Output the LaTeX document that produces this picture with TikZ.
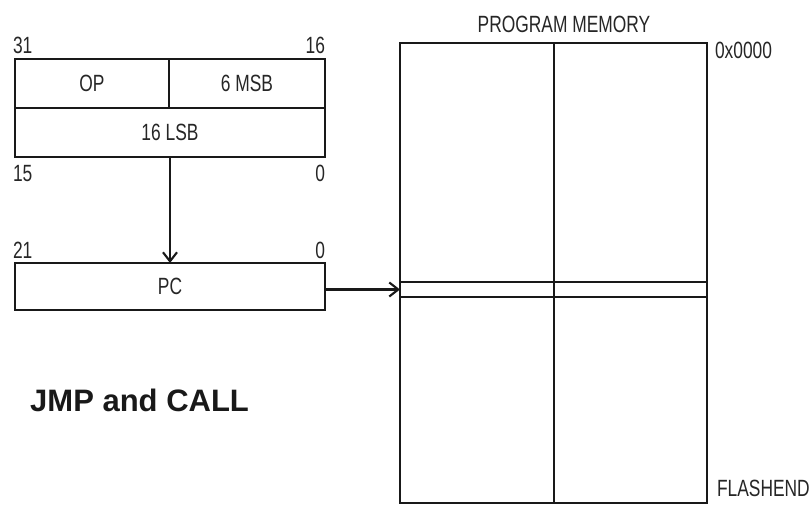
\documentclass[tikz,border=0pt]{standalone}
\usepackage{fontspec}
\setmainfont{Liberation Sans}
\usetikzlibrary{arrows.meta}
\newcommand\narrowtxt[1]{\scalebox{0.74}[1]{#1}}
\newcommand\boxtxt[1]{\raisebox{-2.5pt}{\narrowtxt{#1}}}
\tikzset{
  cell/.style={draw=black!90, line width=2.1pt, inner sep=0pt, outer sep=0pt,
    rectangle, font=\fontsize{23.5}{27}\selectfont, text=black!85},
  lbl/.style={inner sep=0pt, outer sep=0pt, font=\fontsize{23.5}{27}\selectfont, text=black!85},
  conn/.style={draw=black!90, line width=2.1pt, -{Straight Barb[length=9pt,width=14pt,line width=2.1pt]}},
}
\begin{document}
\begin{tikzpicture}[x=1pt,y=-1pt]
\useasboundingbox (0,0) rectangle (811,506);
% instruction word
\node[cell, minimum width=154pt, minimum height=49pt] (op) at (92,83.5) {\boxtxt{OP}};
\node[cell, minimum width=156pt, minimum height=49pt] (msb) at (247,83.5) {\boxtxt{6 MSB}};
\node[cell, minimum width=310pt, minimum height=49pt] (lsb) at (170,132.5) {\boxtxt{16 LSB}};
% PC
\node[cell, minimum width=310pt, minimum height=47pt] (pc) at (170,286.5) {\boxtxt{PC}};
% bit labels
\node[lbl, anchor=base west] (b31) at (13,53) {\narrowtxt{31}};
\node[lbl, anchor=base east] (b16) at (325,53) {\narrowtxt{16}};
\node[lbl, anchor=base west] (b15) at (13,181) {\narrowtxt{15}};
\node[lbl, anchor=base east] (b0a) at (325,181) {\narrowtxt{0}};
\node[lbl, anchor=base west] (b21) at (13,258) {\narrowtxt{21}};
\node[lbl, anchor=base east] (b0b) at (325,258) {\narrowtxt{0}};
% program memory
\node[cell, minimum width=154pt, minimum height=239pt] (memTL) at (477,162.5) {};
\node[cell, minimum width=153pt, minimum height=239pt] (memTR) at (630.5,162.5) {};
\node[cell, minimum width=154pt, minimum height=15pt] (slotL) at (477,289.5) {};
\node[cell, minimum width=153pt, minimum height=15pt] (slotR) at (630.5,289.5) {};
\node[cell, minimum width=154pt, minimum height=206pt] (memBL) at (477,400) {};
\node[cell, minimum width=153pt, minimum height=206pt] (memBR) at (630.5,400) {};
\node[lbl, anchor=base] (pmtitle) at (564,32) {\narrowtxt{PROGRAM MEMORY}};
\node[lbl, anchor=base west] (addr0) at (715,58) {\narrowtxt{0x0000}};
\node[lbl, anchor=base west] (addrend) at (717,496) {\narrowtxt{FLASHEND}};
% title
\node[inner sep=0pt, anchor=base west, font=\fontsize{31}{35}\selectfont\bfseries, text=black!90] (title) at (30,411) {JMP and CALL};
% connectors
\draw[conn] (lsb.south) -- (pc.north);
\draw[conn] (pc.east |- slotL.west) -- (slotL.west);
\end{tikzpicture}
\end{document}
